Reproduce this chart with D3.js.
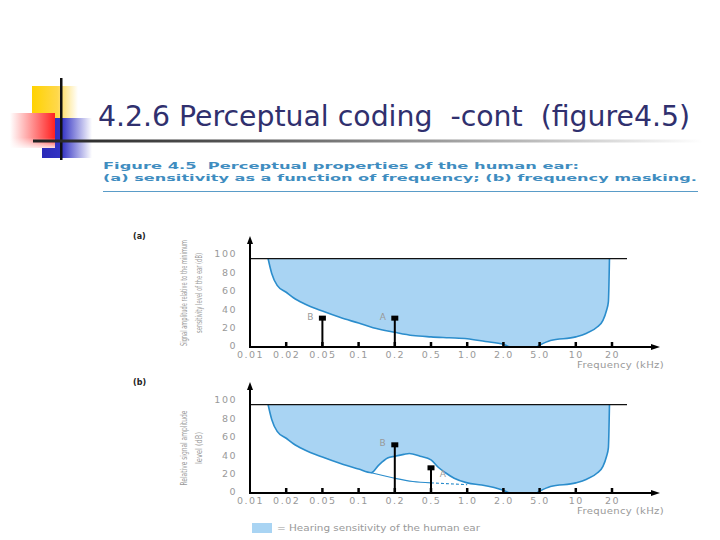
<!DOCTYPE html>
<html>
<head>
<meta charset="utf-8">
<script src="https://cdn.jsdelivr.net/npm/d3@7"></script>
<style>
  body { margin: 0; background: #fff; }
  svg { display: block; }
</style>
</head>
<body>
<svg id="chart" width="720" height="540"></svg>
<script>
// ---------------- data ----------------
const titleText = "4.2.6 Perceptual coding  -cont  (figure4.5)";
const captionLine1 = "Figure 4.5  Perceptual properties of the human ear:";
const captionLine2 = "(a) sensitivity as a function of frequency; (b) frequency masking.";

const freqTicks = [0.01, 0.02, 0.05, 0.1, 0.2, 0.5, 1, 2, 5, 10, 20];
const freqTickLabels = ["0.01", "0.02", "0.05", "0.1", "0.2", "0.5", "1.0", "2.0", "5.0", "10", "20"];
const levelTicks = [0, 20, 40, 60, 80, 100];
const levelTickLabels = ["0", "20", "40", "60", "80", "100"];
const topLevel = 96;

// threshold of hearing in quiet (kHz, dB)
const quietFreq = [0.015, 0.016, 0.0175, 0.02, 0.026, 0.035, 0.05, 0.075, 0.1, 0.14, 0.2, 0.35, 0.5, 0.75, 1.0, 1.5, 2.0, 2.6, 4.7, 5.0, 6.5, 10, 13, 16, 17.5, 18.5, 19, 19.3];
const quietDb   = [96,    80,    67,     59.5, 53.5,  47,    39,   32,    26,  21,   16,  12.5, 11,  10,   9,   6,   3,   0,   0,   2,   7,   11, 15, 22, 29,   40,   49, 96];

// masked threshold in presence of tone B (kHz, dB)
const maskedFreq = [0.015, 0.016, 0.0175, 0.02, 0.026, 0.035, 0.05, 0.075, 0.1, 0.135, 0.155, 0.18, 0.2, 0.275, 0.32, 0.41, 0.5, 0.6, 0.7, 0.82, 1.0, 1.4, 2.0, 2.6, 4.7, 5.0, 6.5, 10, 13, 16, 17.5, 18.5, 19, 19.3];
const maskedDb   = [96,    80,    67,     59.5, 53.5,  47,    39,   32,    26,  22,    30,    38,   40,  42,    43,   40,   36,  28,  22,  16,   11,  8.7, 3,   0,   0,   2,   7,   11, 15, 22, 29,   40,   49, 96];

// underlying quiet threshold under the masking bump
const underSolidFreq = [0.135, 0.2, 0.35, 0.5];
const underSolidDb   = [22,    16,  12.5, 11];
const underDashFreq  = [0.5, 0.75, 1.0];
const underDashDb    = [11,  10,   9];

// signal tones
const tonesA = [ {name: "B", freq: 0.05, db: 33}, {name: "A", freq: 0.2, db: 33} ];
const tonesB = [ {name: "B", freq: 0.2, db: 54}, {name: "A", freq: 0.5, db: 29} ];

const yTitleA = ["Signal amplitude relative to the minimum", "sensitivity level of the ear (dB)"];
const yTitleB = ["Relative signal amplitude", "level (dB)"];
const xTitle = "Frequency (kHz)";
const legendText = "= Hearing sensitivity of the human ear";

// ---------------- drawing ----------------
const svg = d3.select("#chart");
const defs = svg.append("defs");

function linGrad(id, stops, x2 = "100%", y2 = "0%") {
  const g = defs.append("linearGradient").attr("id", id)
    .attr("x1", "0%").attr("y1", "0%").attr("x2", x2).attr("y2", y2);
  stops.forEach(s => g.append("stop").attr("offset", s[0]).attr("stop-color", s[1]).attr("stop-opacity", s[2] ?? 1));
}
linGrad("gYellow", [["0%", "#ffd200"], ["55%", "#ffd84a"], ["100%", "#ffffff"]]);
linGrad("gRed", [["0%", "#ffffff"], ["100%", "#ff2020"]], "100%", "0%");
linGrad("gRedV", [["0%", "#ffffff", 0], ["70%", "#ffffff", 0], ["100%", "#ffffff", 0.85]], "0%", "100%");
linGrad("gBlue", [["0%", "#2a2ab8"], ["40%", "#3434c4"], ["100%", "#ffffff"]]);
linGrad("gRule", [["0%", "#222222"], ["30%", "#555555"], ["75%", "#bdbdbd"], ["100%", "#ffffff"]]);

// decorative squares
svg.append("rect").attr("x", 32).attr("y", 86).attr("width", 46).attr("height", 34).attr("fill", "url(#gYellow)");
svg.append("rect").attr("x", 42).attr("y", 118).attr("width", 50).attr("height", 40).attr("fill", "url(#gBlue)");
svg.append("rect").attr("x", 10).attr("y", 113).attr("width", 45).attr("height", 35).attr("fill", "url(#gRed)");
svg.append("rect").attr("x", 10).attr("y", 113).attr("width", 45).attr("height", 35).attr("fill", "url(#gRedV)");
svg.append("rect").attr("x", 60).attr("y", 78).attr("width", 2.5).attr("height", 82).attr("fill", "#111");
svg.append("rect").attr("x", 33).attr("y", 139.5).attr("width", 670).attr("height", 3).attr("fill", "url(#gRule)");

// title
svg.append("text").attr("x", 98).attr("y", 126)
  .attr("font-family", "Tahoma, 'DejaVu Sans Condensed', 'DejaVu Sans', sans-serif")
  .attr("font-size", 29).attr("fill", "#30306e")
  .attr("textLength", 592).attr("lengthAdjust", "spacingAndGlyphs")
  .style("white-space", "pre")
  .text(titleText);

// caption
const capColor = "#3f8dc0";
svg.append("text").attr("x", 103).attr("y", 169)
  .attr("font-family", "'DejaVu Sans', sans-serif").attr("font-weight", "bold")
  .attr("font-size", 9.5).attr("fill", capColor)
  .attr("textLength", 476).attr("lengthAdjust", "spacingAndGlyphs")
  .style("white-space", "pre").text(captionLine1);
svg.append("text").attr("x", 103).attr("y", 181)
  .attr("font-family", "'DejaVu Sans', sans-serif").attr("font-weight", "bold")
  .attr("font-size", 9.5).attr("fill", capColor)
  .attr("textLength", 594).attr("lengthAdjust", "spacingAndGlyphs")
  .text(captionLine2);
svg.append("line").attr("x1", 103).attr("x2", 698).attr("y1", 191.5).attr("y2", 191.5)
  .attr("stroke", "#5a9cc8").attr("stroke-width", 1.2);

// shared x scale: equally spaced ticks (polylinear)
const x0 = 250, step = 36.2;
const xScale = d3.scaleLinear()
  .domain(freqTicks)
  .range(freqTicks.map((d, i) => x0 + i * step));

const gray = "#999999";
const fillBlue = "#a9d4f3";
const lineBlue = "#2b8dcc";

function panel(opts) {
  const { yBase, curveF, curveD, tones, yTitle, label, underSolid, underDash } = opts;
  const yScale = d3.scaleLinear().domain([0, 100]).range([yBase, yBase - 92]);
  const g = svg.append("g");

  const pts = curveF.map((f, i) => [f, curveD[i]]);
  // filled region between curve and top level
  const area = d3.area()
    .x(d => xScale(d[0]))
    .y0(() => yScale(topLevel))
    .y1(d => yScale(d[1]))
    .curve(d3.curveMonotoneX);
  g.append("path").datum(pts).attr("d", area).attr("fill", fillBlue);

  const line = d3.line().x(d => xScale(d[0])).y(d => yScale(d[1])).curve(d3.curveMonotoneX);
  g.append("path").datum(pts).attr("d", line)
    .attr("fill", "none").attr("stroke", lineBlue).attr("stroke-width", 1.6);

  if (underSolid) {
    g.append("path").datum(underSolid[0].map((f, i) => [f, underSolid[1][i]])).attr("d", line)
      .attr("fill", "none").attr("stroke", lineBlue).attr("stroke-width", 1.2);
    g.append("path").datum(underDash[0].map((f, i) => [f, underDash[1][i]])).attr("d", line)
      .attr("fill", "none").attr("stroke", lineBlue).attr("stroke-width", 1.1)
      .attr("stroke-dasharray", "3,2");
  }

  // top limit line
  g.append("line")
    .attr("x1", xScale(0.01)).attr("x2", xScale(20) + 15)
    .attr("y1", yScale(topLevel)).attr("y2", yScale(topLevel))
    .attr("stroke", "#111").attr("stroke-width", 1.3);

  // x axis
  const xAxis = d3.axisBottom(xScale).tickValues(freqTicks)
    .tickFormat((d, i) => freqTickLabels[i]).tickSize(0).tickPadding(4);
  const xa = g.append("g").attr("transform", `translate(0,${yBase})`).call(xAxis);
  xa.select(".domain").remove();
  xa.selectAll("text").attr("fill", gray).attr("font-size", 9.5)
    .attr("font-family", "'DejaVu Sans', sans-serif").attr("letter-spacing", 1.5);
  // tick marks (upward)
  g.selectAll(".xtick").data(freqTicks.slice(1)).enter().append("line")
    .attr("x1", d => xScale(d)).attr("x2", d => xScale(d))
    .attr("y1", yBase).attr("y2", yBase - 5)
    .attr("stroke", "#000").attr("stroke-width", 2.5);
  // axis line + arrow
  const xEnd = 660;
  g.append("line").attr("x1", x0).attr("x2", xEnd - 4).attr("y1", yBase).attr("y2", yBase)
    .attr("stroke", "#000").attr("stroke-width", 2);
  g.append("path").attr("d", `M${xEnd},${yBase} l-9,-3 l0,6 z`).attr("fill", "#000");

  // y axis
  const yTopPx = yBase - 111;
  g.append("line").attr("x1", x0).attr("x2", x0).attr("y1", yBase + 1).attr("y2", yTopPx + 4)
    .attr("stroke", "#000").attr("stroke-width", 2);
  g.append("path").attr("d", `M${x0},${yTopPx} l-3,8 l6,0 z`).attr("fill", "#000");
  const yAxis = d3.axisLeft(yScale).tickValues(levelTicks)
    .tickFormat((d, i) => levelTickLabels[i]).tickSize(0).tickPadding(13);
  const ya = g.append("g").attr("transform", `translate(${x0},0)`).call(yAxis);
  ya.select(".domain").remove();
  ya.selectAll("text").attr("fill", gray).attr("font-size", 9.5)
    .attr("font-family", "'DejaVu Sans', sans-serif").attr("letter-spacing", 1.5)
    .attr("dy", "0.2em");

  // tones
  tones.forEach(t => {
    const tx = xScale(t.freq), ty = yScale(t.db);
    g.append("line").attr("x1", tx).attr("x2", tx).attr("y1", yBase).attr("y2", ty + 3)
      .attr("stroke", "#000").attr("stroke-width", 2);
    g.append("rect").attr("x", tx - 3.5).attr("y", ty - 1).attr("width", 7).attr("height", 5).attr("fill", "#000");
    g.append("text").attr("x", t.labelX !== undefined ? t.labelX : tx - 9)
      .attr("y", t.labelDy !== undefined ? ty + t.labelDy : ty + 3)
      .attr("text-anchor", "end").attr("fill", gray).attr("font-size", 9)
      .attr("font-family", "'DejaVu Sans', sans-serif").text(t.name);
  });

  // x title
  g.append("text").attr("x", 577).attr("y", yBase + 21)
    .attr("fill", gray).attr("font-size", 9).attr("letter-spacing", 0.3)
    .attr("font-family", "'DejaVu Sans', sans-serif")
    .attr("textLength", 87).attr("lengthAdjust", "spacingAndGlyphs").text(xTitle);

  // y title (rotated)
  const yt = g.append("text")
    .attr("transform", `translate(${opts.yTitleX},${opts.yTitleY}) rotate(-90)`)
    .attr("text-anchor", "middle").attr("fill", gray).attr("font-size", 8.5)
    .attr("font-family", "'DejaVu Sans Condensed', 'Liberation Sans Narrow', sans-serif");
  yTitle.forEach((s, i) => {
    yt.append("tspan").attr("x", 0).attr("dy", i === 0 ? 0 : 15)
      .attr("textLength", opts.yTitleLens[i]).attr("lengthAdjust", "spacingAndGlyphs").text(s);
  });

  // panel label
  svg.append("text").attr("x", 133).attr("y", yBase - 108)
    .attr("fill", "#222").attr("font-size", 8).attr("font-weight", "bold")
    .attr("font-family", "'DejaVu Sans', sans-serif").text(label);
}

panel({
  yBase: 347, curveF: quietFreq, curveD: quietDb, tones: tonesA,
  yTitle: yTitleA, yTitleX: 187, yTitleY: 293, yTitleLens: [106, 80],
  label: "(a)"
});

// tone label placements for panel (b)
tonesB[1].labelX = xScale(0.5) + 15; tonesB[1].labelDy = 11;
panel({
  yBase: 493, curveF: maskedFreq, curveD: maskedDb, tones: tonesB,
  yTitle: yTitleB, yTitleX: 187, yTitleY: 448, yTitleLens: [75, 32],
  label: "(b)",
  underSolid: [underSolidFreq, underSolidDb], underDash: [underDashFreq, underDashDb]
});

// legend
svg.append("rect").attr("x", 252).attr("y", 523).attr("width", 20).attr("height", 10).attr("fill", fillBlue);
svg.append("text").attr("x", 277).attr("y", 531)
  .attr("fill", gray).attr("font-size", 9.5)
  .attr("font-family", "'DejaVu Sans', sans-serif")
  .attr("textLength", 203).attr("lengthAdjust", "spacingAndGlyphs").text(legendText);
</script>
</body>
</html>
